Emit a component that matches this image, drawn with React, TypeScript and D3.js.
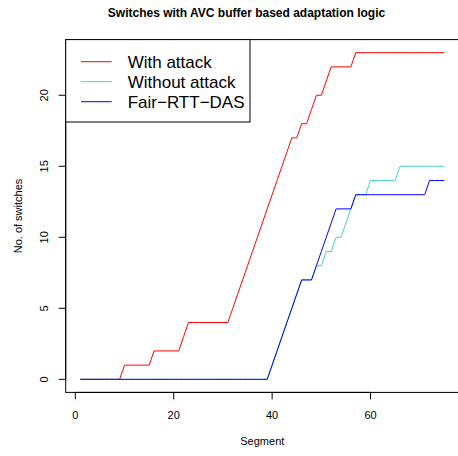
import React from "react";
import * as d3 from "d3";

const segments: number[] = Array.from({ length: 75 }, (_, i) => i + 1);

const withAttack: number[] = [
  0, 0, 0, 0, 0, 0, 0, 0, 0,
  1, 1, 1, 1, 1, 1,
  2, 2, 2, 2, 2, 2,
  3,
  4, 4, 4, 4, 4, 4, 4, 4, 4,
  5, 6, 7, 8, 9, 10, 11, 12, 13, 14, 15, 16, 17,
  17,
  18, 18,
  19,
  20, 20,
  21,
  22, 22, 22, 22, 22,
  23, 23, 23, 23, 23, 23, 23, 23, 23, 23, 23, 23, 23, 23, 23, 23, 23, 23, 23,
];

const withoutAttack: number[] = [
  0, 0, 0, 0, 0, 0, 0, 0, 0, 0, 0, 0, 0, 0, 0, 0, 0, 0, 0, 0,
  0, 0, 0, 0, 0, 0, 0, 0, 0, 0, 0, 0, 0, 0, 0, 0, 0, 0, 0,
  1, 2, 3, 4, 5, 6, 7,
  7, 7,
  8, 8,
  9, 9,
  10, 10,
  11, 12, 13,
  13, 13,
  14, 14, 14, 14, 14, 14,
  15, 15, 15, 15, 15, 15, 15, 15, 15, 15,
];

const fairRTTDAS: number[] = [
  0, 0, 0, 0, 0, 0, 0, 0, 0, 0, 0, 0, 0, 0, 0, 0, 0, 0, 0, 0,
  0, 0, 0, 0, 0, 0, 0, 0, 0, 0, 0, 0, 0, 0, 0, 0, 0, 0, 0,
  1, 2, 3, 4, 5, 6, 7,
  7, 7,
  8, 9, 10, 11, 12,
  12, 12, 12,
  13, 13, 13, 13, 13, 13, 13, 13, 13, 13, 13, 13, 13, 13, 13,
  14, 14, 14, 14,
];

const seriesNames: string[] = ["With attack", "Without attack", "Fair\u2212RTT\u2212DAS"];
const seriesColors: string[] = ["#ff0000", "#48D1CC", "#0000ff"];
const xTicks: number[] = [0, 20, 40, 60];
const yTicks: number[] = [0, 5, 10, 15, 20];

const W = 458;
const H = 456;
const left = 65.7;
const right = 458.9;
const top = 39.6;
const bottom = 392.4;

export default function App() {
  const xMin = 1, xMax = 75;
  const xPad = (xMax - xMin) * 0.04;
  const yMin = 0, yMax = 23;
  const yPad = (yMax - yMin) * 0.04;
  const x = d3.scaleLinear().domain([xMin - xPad, xMax + xPad]).range([left, right]);
  const y = d3.scaleLinear().domain([yMin - yPad, yMax + yPad]).range([bottom, top]);

  const line = d3
    .line<number>()
    .x((_, i) => x(segments[i]))
    .y((d) => y(d));

  const series = [withAttack, withoutAttack, fairRTTDAS];
  const font = "'Liberation Sans', Arial, Helvetica, sans-serif";

  return (
    <svg
      width={W}
      height={H}
      style={{ position: "absolute", left: 0, top: 0, background: "#fff" }}
      fontFamily={font}
    >
      <rect x={0} y={0} width={W} height={H} fill="#fff" />
      <text x={246.5} y={16.5} textAnchor="middle" fontWeight="bold" fontSize={12} fill="#000">
        Switches with AVC buffer based adaptation logic
      </text>

      {series.map((s, k) => (
        <path key={k} d={line(s) || ""} fill="none" stroke={seriesColors[k]} strokeWidth={1} />
      ))}

      {/* box */}
      <rect x={left} y={top} width={right - left} height={bottom - top} fill="none" stroke="#000" strokeWidth={1} />

      {/* x axis */}
      <line x1={x(xTicks[0])} x2={x(xTicks[xTicks.length - 1])} y1={bottom} y2={bottom} stroke="#000" />
      {xTicks.map((t) => (
        <g key={t}>
          <line x1={x(t)} x2={x(t)} y1={bottom} y2={bottom + 7} stroke="#000" />
          <text x={x(t)} y={419} textAnchor="middle" fontSize={11} fill="#000">
            {t}
          </text>
        </g>
      ))}
      <text x={(left + right) / 2} y={445} textAnchor="middle" fontSize={11} fill="#000">
        Segment
      </text>

      {/* y axis */}
      <line x1={left} x2={left} y1={y(yTicks[0])} y2={y(yTicks[yTicks.length - 1])} stroke="#000" />
      {yTicks.map((t) => (
        <g key={t}>
          <line x1={left - 7} x2={left} y1={y(t)} y2={y(t)} stroke="#000" />
          <text
            transform={`translate(48,${y(t)}) rotate(-90)`}
            textAnchor="middle"
            fontSize={11}
            fill="#000"
          >
            {t}
          </text>
        </g>
      ))}
      <text
        transform={`translate(22,${(top + bottom) / 2}) rotate(-90)`}
        textAnchor="middle"
        fontSize={11}
        fill="#000"
      >
        No. of switches
      </text>

      {/* legend */}
      <rect x={left} y={top} width={250 - left} height={122 - top} fill="#fff" stroke="#000" strokeWidth={1} />
      {seriesNames.map((n, k) => (
        <g key={n}>
          <line x1={81} x2={111.7} y1={61.7 + k * 20} y2={61.7 + k * 20} stroke={seriesColors[k]} strokeWidth={1} />
          <text x={127.7} y={61.7 + k * 20 + 6} fontSize={17} fill="#000">
            {n}
          </text>
        </g>
      ))}
    </svg>
  );
}
